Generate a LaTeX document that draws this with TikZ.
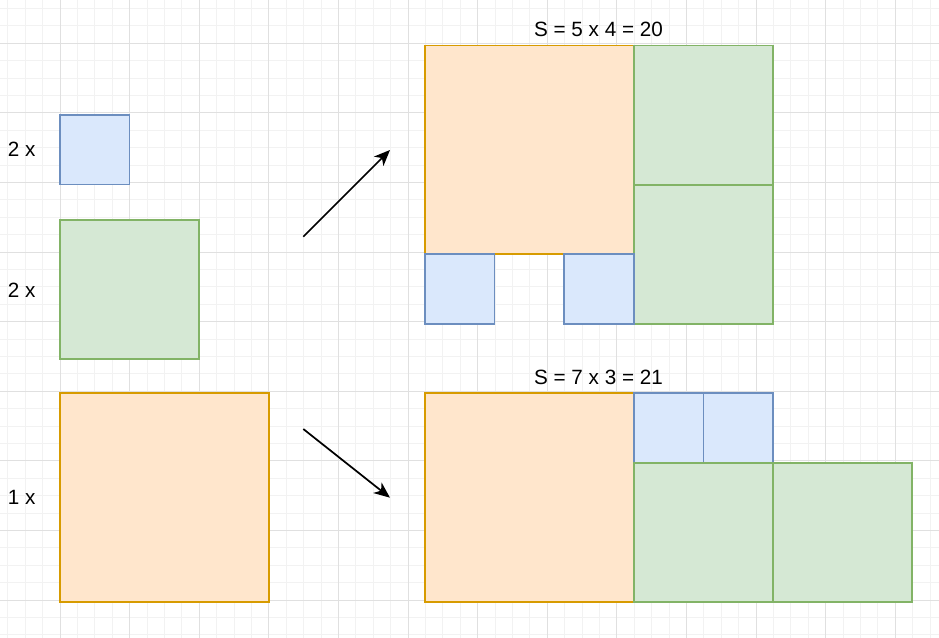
\documentclass[tikz,border=0pt]{standalone}
\usepackage{fontspec}
\setmainfont{Liberation Sans}
\usepackage{tikz}
\usetikzlibrary{arrows.meta,positioning}
\definecolor{bluefill}{HTML}{DAE8FC}
\definecolor{bluedraw}{HTML}{6C8EBF}
\definecolor{greenfill}{HTML}{D5E8D4}
\definecolor{greendraw}{HTML}{82B366}
\definecolor{orangefill}{HTML}{FFE6CC}
\definecolor{orangedraw}{HTML}{D79B00}
\definecolor{minorgrid}{HTML}{F2F2F2}
\definecolor{majorgrid}{HTML}{E0E0E0}
\begin{document}
\begin{tikzpicture}[x=0.75pt,y=-0.75pt,
	box/.style={rectangle,draw,line width=1.3pt,inner sep=0pt,outer sep=0pt,anchor=north west},
	small/.style={box,minimum width=52.2pt,minimum height=52.2pt,fill=bluefill,draw=bluedraw},
	medium/.style={box,minimum width=104.4pt,minimum height=104.4pt,fill=greenfill,draw=greendraw},
	large/.style={box,minimum width=156.6pt,minimum height=156.6pt,fill=orangefill,draw=orangedraw},
	lbl/.style={font=\fontsize{15.5}{18}\selectfont,inner sep=0pt},
	arr/.style={-{Stealth[length=12pt,width=10pt,inset=3.5pt]},line width=1.3pt}]
\fill[white] (0,0) rectangle (939,638);
\useasboundingbox (0,0) rectangle (939,638);
% grid
\foreach \i in {-3,...,50}
	\draw[minorgrid,line width=0.75pt] ({60+17.4*\i},0) -- ({60+17.4*\i},638);
\foreach \i in {-2,...,34}
	\draw[minorgrid,line width=0.75pt] (0,{43.3+17.4*\i}) -- (939,{43.3+17.4*\i});
\foreach \i in {0,...,12}
	\draw[majorgrid,line width=0.75pt] ({60+69.6*\i},0) -- ({60+69.6*\i},638);
\foreach \i in {0,...,8}
	\draw[majorgrid,line width=0.75pt] (0,{43.3+69.6*\i}) -- (939,{43.3+69.6*\i});
% pieces
\node[small] (s) at (60,115) {};
\node[medium] (m) at (60,219.7) {};
\node[large] (l) at (60,393.3) {};
\node[lbl] (ns) at (21.7,149.5) {2 x};
\node[lbl] (nm) at (21.7,290) {2 x};
\node[lbl] (nl) at (21.7,497.5) {1 x};
% first tiling
\node[large] (a) at (425,45.5) {};
\node[medium] (ag1) at (a.north east) {};
\node[medium] (ag2) at (ag1.south west) {};
\node[small] (ab1) at (a.south west) {};
\node[small,anchor=north east] (ab2) at (a.south east) {};
\node[lbl] (at) at (598.5,29) {S = 5 x 4 = 20};
% second tiling
\node[large] (b) at (425,393.3) {};
\node[small] (bb1) at (b.north east) {};
\node[small] (bb2) at (bb1.north east) {};
\node[medium] (bg1) at (bb1.south west) {};
\node[medium] (bg2) at (bg1.north east) {};
\node[lbl] (bt) at (598.5,377.5) {S = 7 x 3 = 21};
% arrows
\coordinate (p1) at (303.3,236.7);
\coordinate (q1) at (390,150);
\coordinate (p2) at (303.3,429);
\coordinate (q2) at (390,497.7);
\draw[arr] (p1) -- (q1);
\draw[arr] (p2) -- (q2);
\end{tikzpicture}
\end{document}
